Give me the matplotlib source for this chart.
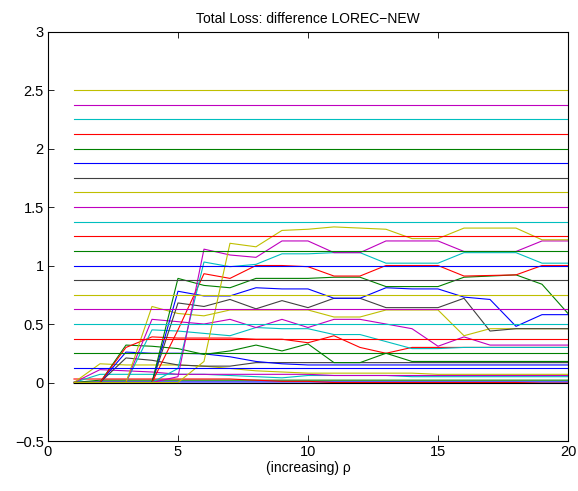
import matplotlib
matplotlib.use("Agg")
import matplotlib.pyplot as plt
import numpy as np

# rho = 1..20
rho = [1, 2, 3, 4, 5, 6, 7, 8, 9, 10, 11, 12, 13, 14, 15, 16, 17, 18, 19, 20]

# difference curves, in plotting order
diff_curves = [
    [0, 0.005, 0.005, 0.005, 0.005, 0.005, 0.005, 0.005, 0.005, 0.005, 0.005, 0.005, 0.005, 0.005, 0.005, 0.005, 0.005, 0.005, 0.005, 0.005],
    [0, 0.02, 0.02, 0.02, 0.02, 0.02, 0.02, 0.02, 0.02, 0.02, 0.02, 0.02, 0.02, 0.02, 0.02, 0.02, 0.02, 0.02, 0.02, 0.02],
    [0.03, 0.03, 0.03, 0.03, 0.03, 0.03, 0.03, 0.02, 0.01, 0.01, 0.0, 0.0, 0.0, 0.0, 0.0, 0.0, 0.0, 0.0, -0.005, -0.005],
    [0, 0.07, 0.07, 0.07, 0.07, 0.07, 0.06, 0.05, 0.04, 0.06, 0.06, 0.06, 0.06, 0.05, 0.05, 0.05, 0.05, 0.05, 0.05, 0.05],
    [0, 0.11, 0.10, 0.09, 0.07, 0.07, 0.07, 0.07, 0.07, 0.07, 0.06, 0.06, 0.06, 0.06, 0.06, 0.06, 0.06, 0.06, 0.06, 0.06],
    [0, 0.16, 0.15, 0.15, 0.15, 0.14, 0.12, 0.10, 0.09, 0.08, 0.08, 0.08, 0.08, 0.08, 0.07, 0.07, 0.07, 0.07, 0.07, 0.07],
    [0, 0, 0.21, 0.19, 0.15, 0.14, 0.14, 0.17, 0.17, 0.17, 0.17, 0.17, 0.17, 0.17, 0.17, 0.17, 0.17, 0.17, 0.17, 0.17],
    [0, 0, 0.26, 0.25, 0.25, 0.245, 0.22, 0.18, 0.16, 0.15, 0.15, 0.15, 0.15, 0.15, 0.15, 0.15, 0.15, 0.15, 0.15, 0.15],
    [0, 0, 0.32, 0.31, 0.29, 0.24, 0.27, 0.32, 0.27, 0.33, 0.17, 0.17, 0.25, 0.18, 0.18, 0.18, 0.18, 0.18, 0.18, 0.18],
    [0, 0, 0.30, 0.39, 0.38, 0.38, 0.38, 0.37, 0.37, 0.34, 0.40, 0.30, 0.25, 0.30, 0.30, 0.30, 0.30, 0.30, 0.30, 0.30],
    [0, 0, 0, 0.45, 0.44, 0.42, 0.40, 0.47, 0.46, 0.46, 0.41, 0.41, 0.35, 0.29, 0.29, 0.30, 0.30, 0.30, 0.30, 0.30],
    [0, 0, 0, 0.54, 0.52, 0.50, 0.54, 0.47, 0.54, 0.47, 0.54, 0.54, 0.50, 0.46, 0.31, 0.39, 0.32, 0.32, 0.32, 0.32],
    [0, 0, 0, 0.65, 0.59, 0.57, 0.62, 0.62, 0.62, 0.62, 0.56, 0.56, 0.62, 0.62, 0.62, 0.40, 0.46, 0.46, 0.46, 0.46],
    [0, 0, 0, 0, 0.68, 0.65, 0.71, 0.63, 0.70, 0.64, 0.72, 0.72, 0.64, 0.64, 0.64, 0.72, 0.44, 0.46, 0.46, 0.46],
    [0, 0, 0, 0, 0.78, 0.74, 0.74, 0.81, 0.80, 0.80, 0.72, 0.72, 0.81, 0.80, 0.80, 0.73, 0.71, 0.48, 0.58, 0.58],
    [0, 0, 0, 0, 0.89, 0.83, 0.81, 0.89, 0.89, 0.89, 0.90, 0.90, 0.82, 0.82, 0.82, 0.90, 0.91, 0.92, 0.84, 0.59],
    [0, 0, 0, 0, 0.45, 0.93, 0.89, 1.00, 1.00, 0.99, 0.91, 0.91, 1.00, 1.00, 1.00, 0.91, 0.915, 0.92, 1.00, 1.00],
    [0, 0, 0, 0, 0.12, 1.03, 0.99, 1.01, 1.10, 1.10, 1.11, 1.11, 1.02, 1.02, 1.02, 1.11, 1.11, 1.11, 1.02, 1.02],
    [0, 0, 0, 0, 0.05, 1.14, 1.09, 1.07, 1.21, 1.21, 1.11, 1.11, 1.21, 1.21, 1.21, 1.12, 1.12, 1.12, 1.21, 1.21],
    [0, 0, 0, 0, 0, 0.18, 1.19, 1.16, 1.30, 1.31, 1.33, 1.32, 1.31, 1.23, 1.23, 1.32, 1.32, 1.32, 1.22, 1.22],
]

# constant reference levels
levels = [0.125, 0.25, 0.375, 0.5, 0.625, 0.75, 0.875, 1.0, 1.125, 1.25,
          1.375, 1.5, 1.625, 1.75, 1.875, 2.0, 2.125, 2.25, 2.375, 2.5]

zero_line = [0] * 20

# old matlab colour order
cols = [(0, 0, 1), (0, 0.5, 0), (1, 0, 0), (0, 0.75, 0.75),
        (0.75, 0, 0.75), (0.75, 0.75, 0), (0.25, 0.25, 0.25)]

plt.rcParams["font.family"] = ["Liberation Sans", "DejaVu Sans"]
fig = plt.figure(figsize=(5.78, 4.91), dpi=100)
ax = fig.add_axes([0.083, 0.1018, 0.8997, 0.834])

lw = 0.8
for i, c in enumerate(diff_curves):
    ax.plot(rho, c, color=cols[i % 7], lw=lw)
for i, lv in enumerate(levels):
    ax.plot(rho, [lv] * len(rho), color=cols[i % 7], lw=lw)
ax.plot(rho, zero_line, color="k", lw=lw)

ax.set_xlim(0, 20)
ax.set_ylim(-0.5, 3)
ax.set_xticks([0, 5, 10, 15, 20])
ax.set_yticks([-0.5, 0, 0.5, 1, 1.5, 2, 2.5, 3])
ax.set_yticklabels(["\u22120.5", "0", "0.5", "1", "1.5", "2", "2.5", "3"])
ax.tick_params(direction="in", top=True, right=True, length=4, width=0.6,
               labelsize=10.5, pad=3)
for s in ax.spines.values():
    s.set_linewidth(0.8)

ax.set_title("Total Loss: difference LOREC\u2212NEW", fontsize=10, pad=6)
ax.set_xlabel("(increasing) \u03c1", fontsize=10, labelpad=1)

fig.savefig("out.png", dpi=100)
